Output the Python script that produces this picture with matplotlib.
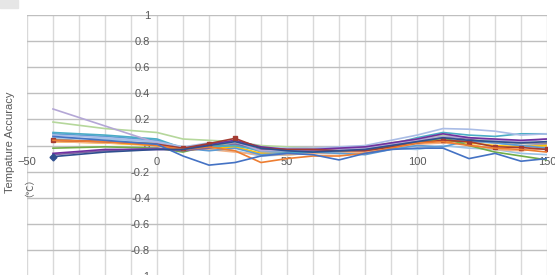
import matplotlib
matplotlib.use("Agg")
import matplotlib.pyplot as plt
from matplotlib.patches import Rectangle
from matplotlib.ticker import MultipleLocator

# temperature points (C)
temps = [-40, -20, 0, 10, 20, 30, 40, 50, 60, 70, 80, 90, 100, 110, 120, 130, 140, 150]

# accuracy of each sensor sample (C)
s_blue = [0.07, 0.04, 0.01, -0.08, -0.15, -0.13, -0.08, -0.06, -0.07, -0.11, -0.06, -0.03, -0.02, -0.02, -0.10, -0.06, -0.12, -0.10]
s_orange = [0.04, 0.03, 0.00, -0.03, -0.01, -0.04, -0.13, -0.10, -0.08, -0.08, -0.06, -0.02, 0.02, 0.03, 0.00, -0.02, -0.03, -0.05]
s_gray = [0.05, 0.03, 0.02, -0.03, 0.00, 0.02, -0.05, -0.05, -0.06, -0.06, -0.05, 0.00, 0.02, 0.05, 0.03, 0.02, 0.00, 0.01]
s_gold = [0.03, 0.02, 0.00, -0.04, -0.02, -0.01, -0.06, -0.07, -0.06, -0.05, -0.04, -0.01, 0.03, 0.04, 0.02, 0.00, -0.01, 0.00]
s_ltblue = [0.09, 0.07, 0.04, -0.02, -0.04, -0.02, -0.07, -0.06, -0.05, -0.06, -0.07, -0.03, 0.00, -0.01, 0.04, 0.02, 0.00, -0.02]
s_green = [-0.02, -0.01, -0.02, -0.05, 0.00, 0.00, -0.03, -0.04, -0.04, -0.04, -0.03, -0.01, 0.02, 0.06, 0.00, -0.05, -0.08, -0.11]
s_navy = [-0.085, -0.05, -0.03, -0.03, 0.00, 0.03, -0.02, -0.04, -0.05, -0.04, -0.03, 0.00, 0.03, 0.06, 0.04, 0.03, 0.02, 0.03]
s_red = [0.04, 0.03, 0.01, -0.02, 0.015, 0.055, -0.02, -0.03, -0.03, -0.04, -0.04, -0.01, 0.02, 0.04, 0.03, -0.01, -0.015, -0.03]
s_purple = [-0.06, -0.03, -0.03, -0.03, 0.01, 0.04, -0.01, -0.03, -0.03, -0.02, -0.01, 0.02, 0.05, 0.09, 0.06, 0.05, 0.04, 0.05]
s_lavender = [0.08, 0.06, 0.03, -0.01, 0.02, 0.03, -0.02, -0.02, -0.02, -0.01, 0.00, 0.04, 0.08, 0.13, 0.125, 0.11, 0.08, 0.09]
s_lilac = [0.28, 0.15, 0.02, -0.03, 0.00, 0.03, -0.04, -0.04, -0.03, -0.03, -0.02, 0.01, 0.04, 0.07, 0.06, 0.04, 0.03, 0.05]
s_ltgreen = [0.18, 0.13, 0.10, 0.05, 0.04, 0.03, 0.00, -0.01, -0.02, -0.02, -0.01, 0.02, 0.05, 0.08, 0.06, 0.03, 0.02, 0.03]
s_teal = [0.10, 0.08, 0.05, -0.02, -0.01, 0.00, -0.04, -0.05, -0.05, -0.04, -0.03, 0.01, 0.06, 0.10, 0.08, 0.07, 0.09, 0.09]
s_peach = [0.03, 0.02, 0.01, -0.02, -0.03, -0.05, -0.07, -0.07, -0.06, -0.06, -0.05, -0.02, 0.01, 0.02, 0.01, -0.03, -0.04, -0.02]
s_sky = [0.06, 0.05, 0.03, -0.01, -0.03, -0.04, -0.08, -0.07, -0.06, -0.05, -0.05, -0.02, -0.03, 0.00, -0.02, -0.03, -0.06, -0.07]
s_violet = [-0.07, -0.04, -0.02, -0.04, -0.02, 0.01, -0.03, -0.04, -0.04, -0.03, -0.02, 0.01, 0.04, 0.07, 0.05, 0.03, 0.02, 0.02]

fig = plt.figure(figsize=(5.55, 2.75), dpi=100)
ax = fig.add_axes([0.0486, -0.004, 0.937, 0.9495])

# watermark fragment in corner
fig.patches.append(Rectangle((0, 1 - 8 / 275), 18 / 555, 8 / 275, transform=fig.transFigure,
                             color="#E6E6E6", zorder=0))

lw = 1.2
ax.plot(temps, s_gray, color="#A5A5A5", lw=lw)
ax.plot(temps, s_gold, color="#FFC000", lw=lw)
ax.plot(temps, s_sky, color="#9DC3E6", lw=lw)
ax.plot(temps, s_peach, color="#F4B183", lw=lw)
ax.plot(temps, s_ltblue, color="#5B9BD5", lw=lw)
ax.plot(temps, s_green, color="#70AD47", lw=lw)
ax.plot(temps, s_violet, color="#8064A2", lw=lw)
ax.plot(temps, s_teal, color="#4BACC6", lw=lw)
ax.plot(temps, s_ltgreen, color="#B5D79B", lw=lw)
ax.plot(temps, s_lilac, color="#B4A7D6", lw=lw)
ax.plot(temps, s_lavender, color="#A9BCE6", lw=lw)
ax.plot(temps, s_purple, color="#7030A0", lw=lw)
ax.plot(temps, s_red, color="#A33B32", lw=lw, marker="s", ms=3.5,
        markevery=[0, 3, 4, 5, 13, 14, 15, 16, 17])
ax.plot(temps, s_orange, color="#ED7D31", lw=lw)
ax.plot(temps, s_blue, color="#4472C4", lw=lw)
ax.plot(temps, s_navy, color="#2F4F8F", lw=lw, marker="D", ms=3.5, markevery=[0])

ax.set_xlim(-50, 150)
ax.set_ylim(-1, 1)
ax.xaxis.set_major_locator(MultipleLocator(50))
ax.xaxis.set_minor_locator(MultipleLocator(10))
ax.set_yticks([1, 0.8, 0.6, 0.4, 0.2, 0, -0.2, -0.4, -0.6, -0.8, -1])
ax.set_yticklabels(["1", "0.8", "0.6", "0.4", "0.2", "0", "-0.2", "-0.4", "-0.6", "-0.8", "-1"])

ax.grid(True, which="both", axis="x", color="#D9D9D9", lw=1)
ax.grid(True, which="major", axis="y", color="#BFBFBF", lw=1)
ax.set_axisbelow(True)

for s in ax.spines.values():
    s.set_visible(False)
ax.spines["left"].set_position(("data", 0))
ax.spines["bottom"].set_position(("data", 0))
ax.tick_params(axis="both", which="both", length=0, labelsize=8, labelcolor="#595959")
ax.tick_params(axis="y", pad=5)
ax.tick_params(axis="x", pad=8)
for lab in ax.get_xticklabels() + ax.get_yticklabels():
    lab.set_family("Liberation Sans")

# y axis title, two lines
fig.text(0.018, 0.298, "Tempature Accuracy", rotation=90, ha="center", va="bottom",
         fontsize=8, color="#595959", family="Liberation Sans")
fig.text(0.044, 0.284, "（℃）", rotation=90, ha="center", va="bottom",
         fontsize=7, color="#595959",
         family=["Liberation Sans", "Noto Sans CJK SC", "DejaVu Sans"])

fig.savefig("out.png", dpi=100)
